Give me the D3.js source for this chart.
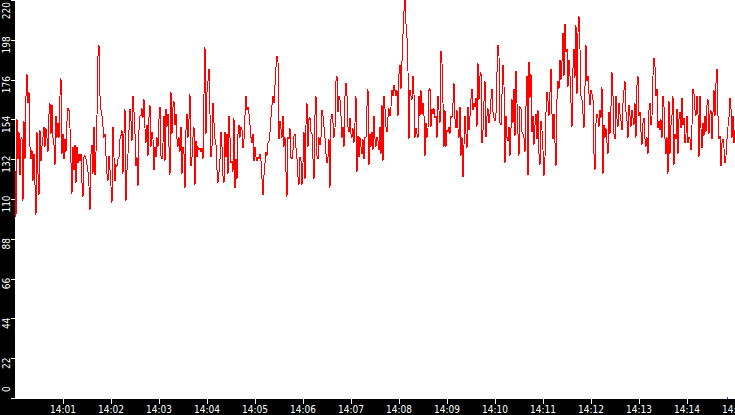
<!DOCTYPE html>
<html>
<head>
<meta charset="utf-8">
<script src="https://cdn.jsdelivr.net/npm/d3@7"></script>
<style>
html,body{margin:0;padding:0;background:#fff;overflow:hidden;}
svg{display:block;}
text{font-family:"DejaVu Sans Condensed","DejaVu Sans",sans-serif;font-size:10px;fill:#fff;}
</style>
</head>
<body>
<script>
const startTime = "2024-01-01T14:00:00";
const endTime   = "2024-01-01T14:15:00";
const yTicks = [0, 22, 44, 66, 88, 110, 132, 154, 176, 198, 220];
const xTickLabels = ["14:01","14:02","14:03","14:04","14:05","14:06","14:07","14:08","14:09","14:10","14:11","14:12","14:13","14:14","14:15"];

const seg1 = [126,100,154,132,147,123,143,144,109,153,132,167,179,163,169,139,132,137,120,135,118,101,147,124,112,148,131,139,144,150,139,149,144,136,157,163,146,162,144,140,129,156,144,152,144,167,177,135,146,132,143,136,153,160,159,149,130,113,139,126,140,119,139,130,135,131,135,119,111,133,134,132,129,125,117,104,135,140,124,150,123,136,156,189,195,167,159,156,150,144,146,134,124,120,134,126,117,108,150,133,120,129,128,132,133,143,145,148,124,146,160,109,126,135,148,160,153,142,167,158,146,128,133,117,148,156,156,160,155,165,149,141,151,134,155,162,139,147,143,126,139,133,144,139,154,161,134,132,141,156];
const seg2 = [131,160,150,157,139,123,169,146,161,164,151,157,143,139,144,136,150,124,139,135,116,148,157,144,154,168,128,133,144,150,118,142,133,139,137,138,136,138,132,168,194,146,169,175,182,157,133,139,163,152,143,140,126,119,125,132,147,139,123,119,147,133,146,124,156,144,130,131,125,155,116,132,121,146,151,144,150,148,138,143,156,167,159,161,157,151,144,141,146,131,139,133,131,133,132,135,131,121,112,123,130,136,134,141,142,147,155,162,167,163,173,183,189,186,143,153,149,144,156,139,144,125,111,144,143,149,133,132,137,145,146,138,132,122,118,133,131,118,130,147,121,151,163,139,154];
const seg3 = [155,147,146,132,121,156,167,134,132,144,140,144,159,156,150,144,135,130,133,143,116,154,157,152,144,149,175,178,158,167,165,156,144,150,139,167,174,167,150,147,155,146,144,149,141,152,167,125,145,133,144,139,135,143,132,144,144,161,171,129,146,139,147,137,156,143,139,144,142,137,150,135,162,131,167,160,150,147,155,160,156,161,170,167,173,170,167,170,156,179,184,171,186,201,214,220,207,199,181,143,170,167,165,178,168,144,149,146,144,167,156,170,157,163,156,134,152,144,149,170,171,150,160,157,160,155,156,144,167,159,152,192,185,163,139,159,139,148,147,150,146,156,155,163,174];
const seg4 = [154,149,159,149,144,161,134,144,122,140,156,146,138,161,148,156,165,171,159,163,161,166,150,185,165,178,180,141,148,164,175,144,156,160,152,157,165,171,158,155,153,157,180,195,189,152,151,168,184,173,130,156,144,142,150,134,149,165,152,171,145,181,163,146,134,161,160,147,146,144,136,161,178,123,186,166,179,147,156,140,151,157,143,159,135,129,153,148,137,123,133,158,169,164,156,169,182,157,143,157,141,128,165,175,171,187,176,186,202,178,207,191,193,172,187,178,163,150,182,193,177,206,168,202,211,193,167,165,157,149,172,195,175,178,168,162,170,168,165,135,126,152,157,155,150];
const seg5 = [159,155,172,124,151,144,149,141,135,158,146,161,180,167,146,143,167,154,150,163,157,153,148,163,170,175,158,153,144,162,156,150,159,155,151,163,144,173,178,156,158,147,140,152,155,143,139,144,135,159,163,151,156,178,188,183,167,171,149,153,148,154,144,167,161,143,135,144,124,164,135,151,156,167,129,146,143,160,135,154,158,149,166,151,155,141,146,156,141,144,143,137,151,171,168,159,156,167,157,133,167,149,138,152,145,156,147,162,165,146,157,159,143,158,170,156,174,182,156,143,145,128,141,143,138,130,134,143,150,155,166,160,144,156,141,148];

const values = seg1.concat(seg2, seg3, seg4, seg5);

// ---- layout ----
const W = 735, H = 415;
const left = 15, plotBottom = 398, bandTop = 399;

const t0 = new Date(startTime), t1 = new Date(endTime);
const stepMs = (t1 - t0) / (values.length - 1);
const data = values.map((v, i) => ({t: new Date(+t0 + i * stepMs), v}));

const x = d3.scaleTime().domain([t0, t1]).range([left, W]);
const y = d3.scaleLinear().domain([0, 220]).range([plotBottom, 0]);

const svg = d3.select("body").append("svg").attr("width", W).attr("height", H);

svg.append("rect").attr("x", 0).attr("y", 0).attr("width", W).attr("height", H).attr("fill", "#fff");

// line
svg.append("path")
  .datum(data)
  .attr("fill", "none")
  .attr("stroke", "#ff0000")
  .attr("stroke-width", 1)
  .attr("shape-rendering", "crispEdges")
  .attr("d", d3.line().x(d => x(d.t)).y(d => y(d.v)));

// black bands
svg.append("rect").attr("x", 0).attr("y", 0).attr("width", left).attr("height", H).attr("fill", "#000");
svg.append("rect").attr("x", 0).attr("y", bandTop).attr("width", W).attr("height", H - bandTop).attr("fill", "#000");

// small blue marker at the lower-right corner
svg.append("rect").attr("x", x(t1) - 8).attr("y", bandTop - 2).attr("width", 1).attr("height", 2).attr("fill", "#2040ff");

// y axis
const yAxisG = svg.append("g");
yAxisG.selectAll("line").data(yTicks).enter().append("line")
  .attr("x1", 11).attr("x2", left)
  .attr("y1", d => Math.round(y(d)) + 0.5).attr("y2", d => Math.round(y(d)) + 0.5)
  .attr("stroke", "#fff").attr("stroke-width", 1).attr("shape-rendering", "crispEdges");
yAxisG.selectAll("text").data(yTicks).enter().append("text")
  .text(d => d)
  .attr("text-anchor", "middle")
  .each(function(d) {
    const len = this.getComputedTextLength();
    let cy = y(d) + 5;
    cy = Math.max(cy, len / 2 + 2);
    cy = Math.min(cy, 392 - len / 2);
    d3.select(this).attr("transform", `translate(10,${cy}) rotate(-90)`);
  });

// x axis
const fmt = d3.timeFormat("%H:%M");
const xTicks = x.ticks(d3.timeMinute.every(1)).filter(d => xTickLabels.includes(fmt(d)));
const xAxisG = svg.append("g");
xAxisG.selectAll("line").data(xTicks).enter().append("line")
  .attr("x1", d => Math.round(x(d)) + 0.5).attr("x2", d => Math.round(x(d)) + 0.5)
  .attr("y1", bandTop).attr("y2", bandTop + 5)
  .attr("stroke", "#fff").attr("stroke-width", 1).attr("shape-rendering", "crispEdges");
xAxisG.selectAll("text").data(xTicks).enter().append("text")
  .attr("x", d => x(d)).attr("y", 413)
  .attr("text-anchor", "middle")
  .text(d => fmt(d));
</script>
</body>
</html>
